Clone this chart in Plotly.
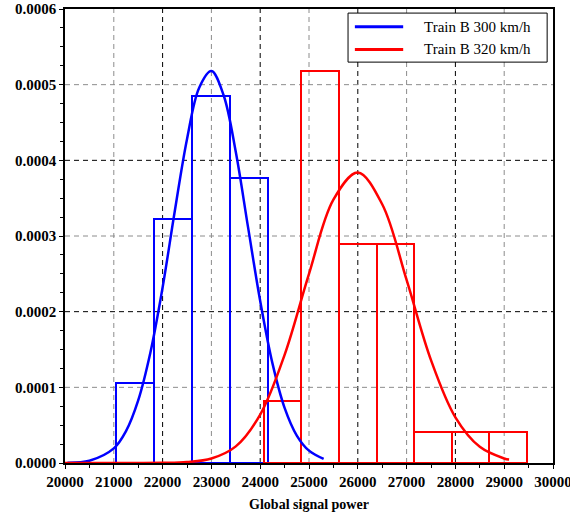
import plotly.graph_objects as go

# ---- data ----
blue_edges = [21050, 21825, 22600, 23375, 24150]
blue_heights = [0.000106, 0.000322, 0.000485, 0.000377]

red_edges = [24075, 24845, 25615, 26385, 27155, 27925, 28695, 29465]
red_heights = [0.0000823, 0.000518, 0.000290, 0.000290, 0.0000405, 0.0000405, 0.0000405]

blue_curve_x = [20050, 20500, 21000, 21250, 21500, 21750, 22000, 22250, 22500, 22750,
                23000, 23250, 23500, 23750, 24000, 24250, 24500, 24750, 25000, 25300]
blue_curve_y = [0.0000004, 0.0000030, 0.0000193, 0.0000421, 0.0000827, 0.000146, 0.000232,
                0.000333, 0.000428, 0.000496, 0.000518, 0.000486, 0.000411, 0.000312,
                0.000214, 0.000132, 0.0000729, 0.0000363, 0.0000163, 0.0000054]

red_curve_x = [20000, 21000, 22000, 22500, 23000, 23500, 24000, 24500, 25000, 25500,
               26000, 26500, 27000, 27500, 28000, 28500, 29000, 29100]
red_curve_y = [0.0, 0.0, 0.0000002, 0.0000013, 0.0000060, 0.0000220, 0.0000640, 0.000143,
               0.000250, 0.000348, 0.000384, 0.000342, 0.000242, 0.000136, 0.0000604,
               0.0000214, 0.0000060, 0.0000045]

series_names = ["Train B 300 km/h", "Train B 320 km/h"]
x_ticks = [20000, 21000, 22000, 23000, 24000, 25000, 26000, 27000, 28000, 29000, 30000]
y_ticks = [0.0, 0.0001, 0.0002, 0.0003, 0.0004, 0.0005, 0.0006]
x_grid_major = [22000, 24000, 26000, 28000]
x_grid_minor = [21000, 23000, 25000, 27000, 29000]
y_grid_major = [0.0002, 0.0004]
y_grid_minor = [0.0001, 0.0003, 0.0005]

BLUE = "rgb(0,0,255)"
RED = "rgb(255,0,0)"

fig = go.Figure()


def hist_trace(edges, heights, color):
    lefts = edges[:-1]
    widths = [b - a for a, b in zip(edges[:-1], edges[1:])]
    return go.Bar(x=lefts, y=heights, width=widths, offset=0,
                  marker=dict(color="rgba(0,0,0,0)", line=dict(color=color, width=2)),
                  showlegend=False, hoverinfo="skip")


fig.add_trace(hist_trace(blue_edges, blue_heights, BLUE))
fig.add_trace(hist_trace(red_edges, red_heights, RED))
fig.add_trace(go.Scatter(x=blue_curve_x, y=blue_curve_y, mode="lines",
                         line=dict(color=BLUE, width=2.5, shape="spline"),
                         name=series_names[0], showlegend=False))
fig.add_trace(go.Scatter(x=red_curve_x, y=red_curve_y, mode="lines",
                         line=dict(color=RED, width=2.5, shape="spline"),
                         name=series_names[1], showlegend=False))

shapes = []
for v in x_grid_minor:
    shapes.append(dict(type="line", xref="x", yref="paper", x0=v, x1=v, y0=0, y1=1,
                       line=dict(color="#8c8c8c", width=1, dash="5px,4px"), layer="below"))
for v in x_grid_major:
    shapes.append(dict(type="line", xref="x", yref="paper", x0=v, x1=v, y0=0, y1=1,
                       line=dict(color="#000000", width=1, dash="5px,4px"), layer="below"))
for v in y_grid_minor:
    shapes.append(dict(type="line", xref="paper", yref="y", x0=0, x1=1, y0=v, y1=v,
                       line=dict(color="#8c8c8c", width=1, dash="5px,4px"), layer="below"))
for v in y_grid_major:
    shapes.append(dict(type="line", xref="paper", yref="y", x0=0, x1=1, y0=v, y1=v,
                       line=dict(color="#000000", width=1, dash="5px,4px"), layer="below"))

# manual legend box
shapes.append(dict(type="rect", xref="paper", yref="paper", x0=0.580, x1=0.988, y0=0.883, y1=0.991,
                   line=dict(color="black", width=1), fillcolor="white", layer="above"))
leg_y = [0.961, 0.911]
for yy, col in zip(leg_y, [BLUE, RED]):
    shapes.append(dict(type="line", xref="paper", yref="paper", x0=0.594, x1=0.693, y0=yy, y1=yy,
                       line=dict(color=col, width=3), layer="above"))

annotations = []
for yy, name in zip(leg_y, series_names):
    annotations.append(dict(xref="paper", yref="paper", x=0.732, y=yy, text=name, showarrow=False,
                            xanchor="left", yanchor="middle",
                            font=dict(family="Liberation Serif", size=15, color="black")))

axis_font = dict(family="Liberation Serif", size=15, color="black", weight="bold")

fig.update_layout(
    width=570, height=516,
    margin=dict(l=65, r=17, t=9, b=53, autoexpand=False),
    paper_bgcolor="white", plot_bgcolor="white",
    bargap=0, barmode="overlay",
    shapes=shapes, annotations=annotations,
    xaxis=dict(range=[20000, 30000], tickvals=x_ticks, ticktext=[str(v) for v in x_ticks],
               showgrid=False, zeroline=False, showline=True, linecolor="black", linewidth=1.5,
               mirror=True, ticks="outside", ticklen=4, tickcolor="black",
               ticklabeloverflow="allow", automargin=False,
               minor=dict(dtick=500, ticks="outside", ticklen=3, tickcolor="black"),
               tickfont=axis_font,
               title=dict(text="Global signal power", standoff=10,
                          font=dict(family="Liberation Serif", size=14, color="black", weight="bold"))),
    yaxis=dict(range=[0, 0.0006], tickvals=y_ticks, ticktext=[f"{v:.4f}" for v in y_ticks],
               showgrid=False, zeroline=False, showline=True, linecolor="black", linewidth=1.5,
               mirror=True, ticks="outside", ticklen=4, tickcolor="black",
               ticklabeloverflow="allow", automargin=False,
               minor=dict(dtick=0.000025, ticks="outside", ticklen=3, tickcolor="black"),
               tickfont=axis_font),
)

fig.write_html("out.html")
